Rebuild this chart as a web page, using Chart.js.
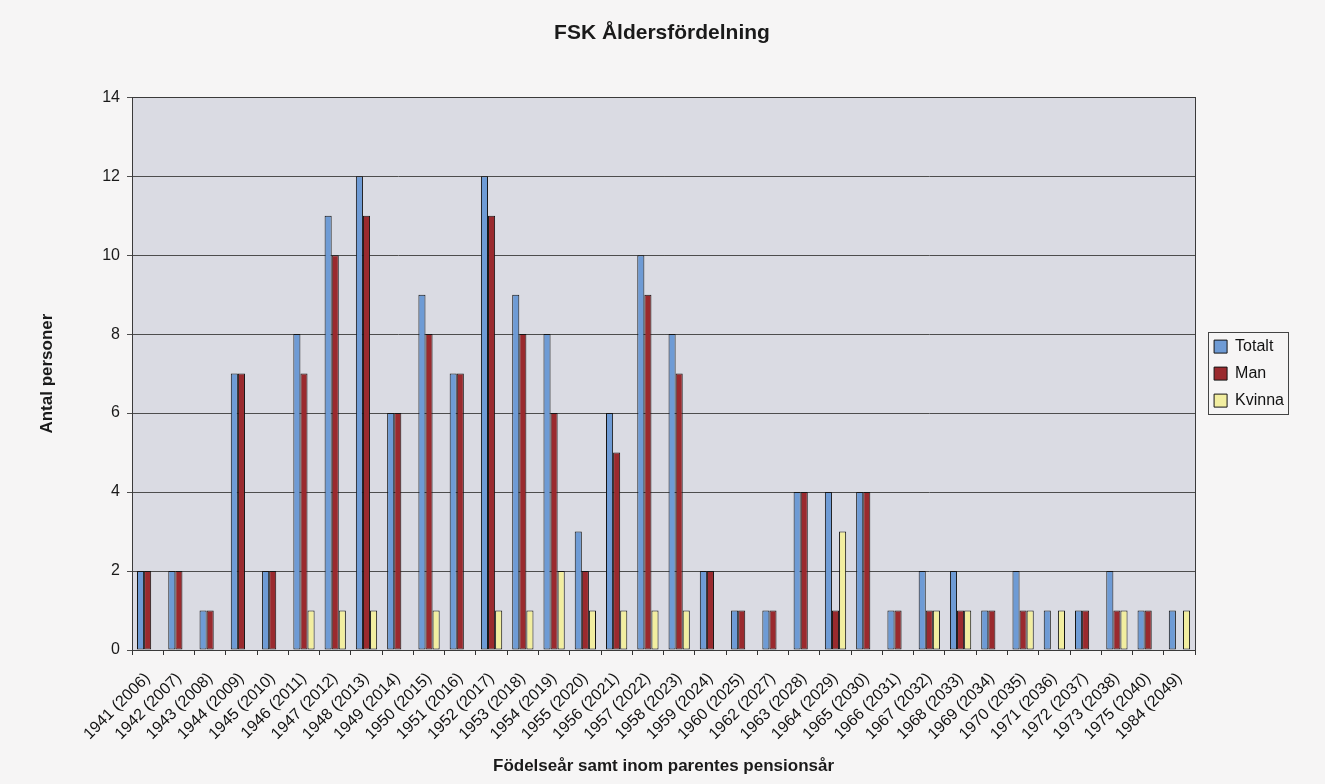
<!DOCTYPE html>
<html>
<head>
<meta charset="utf-8">
<script src="https://cdn.jsdelivr.net/npm/chart.js@4.4.1/dist/chart.umd.min.js"></script>
<style>
  html, body { margin: 0; padding: 0; background: #f6f5f5; }
</style>
</head>
<body>
<canvas id="ageChart" width="1325" height="784"></canvas>
<script>
// Födelseår (pensionsår)
var categories = [
    "1941 (2006)", "1942 (2007)", "1943 (2008)", "1944 (2009)", "1945 (2010)",
    "1946 (2011)", "1947 (2012)", "1948 (2013)", "1949 (2014)", "1950 (2015)",
    "1951 (2016)", "1952 (2017)", "1953 (2018)", "1954 (2019)", "1955 (2020)",
    "1956 (2021)", "1957 (2022)", "1958 (2023)", "1959 (2024)", "1960 (2025)",
    "1962 (2027)", "1963 (2028)", "1964 (2029)", "1965 (2030)", "1966 (2031)",
    "1967 (2032)", "1968 (2033)", "1969 (2034)", "1970 (2035)", "1971 (2036)",
    "1972 (2037)", "1973 (2038)", "1975 (2040)", "1984 (2049)"
];

var totalt = [2, 2, 1, 7, 2, 8, 11, 12, 6, 9, 7, 12, 9, 8, 3, 6, 10, 8, 2, 1, 1, 4, 4, 4, 1, 2, 2, 1, 2, 1, 1, 2, 1, 1];
var man    = [2, 2, 1, 7, 2, 7, 10, 11, 6, 8, 7, 11, 8, 6, 2, 5, 9, 7, 2, 1, 1, 4, 1, 4, 1, 1, 1, 1, 1, 0, 1, 1, 1, 0];
var kvinna = [0, 0, 0, 0, 0, 1, 1, 1, 0, 1, 0, 1, 1, 2, 1, 1, 1, 1, 0, 0, 0, 0, 3, 0, 0, 1, 1, 0, 1, 1, 0, 1, 0, 1];

var yMax = 14;
var yStep = 2;

var fontFamily = "'Liberation Sans', Arial, sans-serif";

// grey plot area, frame round it and a box round the legend
var chartDecor = {
    id: 'chartDecor',
    beforeDraw: function(chart) {
        var a = chart.chartArea, c = chart.ctx;
        c.save();
        c.fillStyle = '#dadbe3';
        c.fillRect(a.left, a.top, a.right - a.left, a.bottom - a.top);
        c.restore();
    },
    beforeDatasetsDraw: function(chart) {
        var a = chart.chartArea, c = chart.ctx;
        c.save();
        c.strokeStyle = '#3a3a3a';
        c.lineWidth = 1;
        c.strokeRect(Math.round(a.left) + 0.5, Math.round(a.top) + 0.5,
                     Math.round(a.right - a.left), Math.round(a.bottom - a.top));
        c.restore();
    },
    afterDraw: function(chart) {
        var boxes = chart.legend.legendHitBoxes;
        if (!boxes || !boxes.length) return;
        var l = Infinity, t = Infinity, r = -Infinity, b = -Infinity;
        boxes.forEach(function(h) {
            l = Math.min(l, h.left); t = Math.min(t, h.top);
            r = Math.max(r, h.left + h.width); b = Math.max(b, h.top + h.height);
        });
        var c = chart.ctx;
        c.save();
        c.strokeStyle = '#444';
        c.lineWidth = 1;
        c.strokeRect(Math.round(l - 6) + 0.5, Math.round(t - 7) + 0.5,
                     Math.round(r - l + 10), Math.round(b - t + 12));
        c.restore();
    }
};

var ctx = document.getElementById("ageChart").getContext('2d');

var ageChart = new Chart(ctx, {
    type: 'bar',
    data: {
        labels: categories,
        datasets: [{
            label: 'Totalt',
            data: totalt,
            backgroundColor: '#6e9bd5'
        }, {
            label: 'Man',
            data: man,
            backgroundColor: '#9a2a2e'
        }, {
            label: 'Kvinna',
            data: kvinna,
            backgroundColor: '#f2eea0'
        }]
    },
    options: {
        responsive: false,
        animation: false,
        devicePixelRatio: 1,
        layout: { padding: { left: 30, right: 31, top: 0, bottom: 0 } },
        datasets: {
            bar: {
                borderColor: '#151515',
                borderWidth: 1,
                borderSkipped: false,
                categoryPercentage: 0.68,
                barPercentage: 1.0
            }
        },
        plugins: {
            title: {
                display: true,
                text: 'FSK Åldersfördelning',
                color: '#1a1a1a',
                font: { family: fontFamily, size: 21, weight: 'bold' },
                padding: { top: 21, bottom: 51 }
            },
            legend: {
                position: 'right',
                fullSize: false,
                labels: {
                    color: '#111',
                    font: { family: fontFamily, size: 16 },
                    boxWidth: 13,
                    boxHeight: 13,
                    padding: 11
                }
            },
            tooltip: { enabled: false }
        },
        scales: {
            x: {
                grid: {
                    drawOnChartArea: false,
                    drawTicks: true,
                    tickLength: 5,
                    color: '#333'
                },
                border: { color: '#333' },
                ticks: {
                    autoSkip: false,
                    minRotation: 45,
                    maxRotation: 45,
                    padding: 14,
                    color: '#111',
                    font: { family: fontFamily, size: 16 }
                },
                title: {
                    display: true,
                    text: 'Födelseår samt inom parentes pensionsår',
                    color: '#1a1a1a',
                    font: { family: fontFamily, size: 17, weight: 'bold' },
                    padding: { top: 4, bottom: 7 }
                },
                afterFit: function(scale) { scale.height = 134; }
            },
            y: {
                min: 0,
                max: yMax,
                grid: {
                    color: '#4d4d4d',
                    tickLength: 5
                },
                border: { color: '#333' },
                ticks: {
                    stepSize: yStep,
                    padding: 7,
                    color: '#1a1a1a',
                    font: { family: fontFamily, size: 16 }
                },
                title: {
                    display: true,
                    text: 'Antal personer',
                    color: '#1a1a1a',
                    font: { family: fontFamily, size: 17, weight: 'bold' },
                    padding: { top: 7, bottom: 4 }
                },
                afterFit: function(scale) { scale.width = 102; }
            },
            // empty spacer between the plot and the legend
            legendGap: {
                type: 'linear',
                position: 'right',
                grid: { display: false },
                border: { display: false },
                ticks: { display: false },
                afterFit: function(scale) { scale.width = 8; }
            }
        }
    },
    plugins: [chartDecor]
});
</script>
</body>
</html>
